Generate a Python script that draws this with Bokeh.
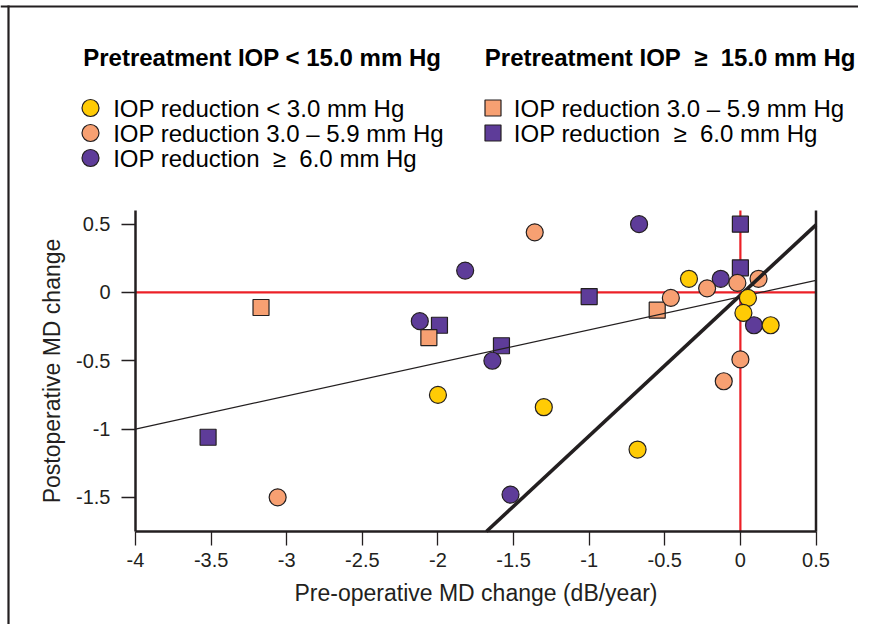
from bokeh.plotting import figure
from bokeh.models import Range1d, FixedTicker
from bokeh.embed import file_html
from bokeh.resources import INLINE
from bokeh.core.properties import value

# ---------------- data ----------------
# Pretreatment IOP < 15.0 mm Hg (circles)
yellow_circ_x = [-2.00, -1.30, -0.68, -0.34, 0.05, 0.02, 0.20]
yellow_circ_y = [-0.75, -0.84, -1.15, 0.10, -0.04, -0.15, -0.24]

orange_circ_x = [-3.06, -1.36, -0.46, -0.22, -0.02, 0.12, 0.00, -0.11]
orange_circ_y = [-1.50, 0.44, -0.04, 0.03, 0.07, 0.10, -0.49, -0.65]

purple_circ_x = [-2.12, -1.82, -1.64, -1.52, -0.67, -0.13, 0.09]
purple_circ_y = [-0.21, 0.16, -0.50, -1.48, 0.50, 0.10, -0.24]

# Pretreatment IOP >= 15.0 mm Hg (squares)
orange_sq_x = [-3.17, -2.06, -0.55]
orange_sq_y = [-0.11, -0.33, -0.13]

purple_sq_x = [-3.52, -1.99, -1.58, -1.00, 0.00, 0.00]
purple_sq_y = [-1.06, -0.24, -0.39, -0.03, 0.18, 0.50]

# fitted lines (slope, intercept)
thin_fit = (0.242, -0.032)
thick_fit = (1.03, -0.02)

x_limits = (-4.0, 0.5)
y_limits = (-1.75, 0.6)

x_ticks = [-4, -3.5, -3, -2.5, -2, -1.5, -1, -0.5, 0, 0.5]
x_tick_labels = ["-4", "-3.5", "-3", "-2.5", "-2", "-1.5", "-1", "-0.5", "0", "0.5"]
y_ticks = [-1.5, -1, -0.5, 0, 0.5]
y_tick_labels = ["-1.5", "-1", "-0.5", "0", "0.5"]

headers = ["Pretreatment IOP < 15.0 mm Hg", "Pretreatment IOP\u00a0 \u2265 \u00a015.0 mm Hg"]
legend_left = ["IOP reduction < 3.0 mm Hg",
               "IOP reduction 3.0 \u2013 5.9 mm Hg",
               "IOP reduction\u00a0 \u2265 \u00a06.0 mm Hg"]
legend_right = ["IOP reduction 3.0 \u2013 5.9 mm Hg",
                "IOP reduction\u00a0 \u2265 \u00a06.0 mm Hg"]

x_label = "Pre-operative MD change (dB/year)"
y_label = "Postoperative MD change"

# ---------------- style / geometry ----------------
FONT = "Liberation Sans"
INK = "#231F20"
YELLOW = "#FFCB05"
ORANGE = "#F7A072"
PURPLE = "#5E3C99"
RED = "#EC2027"

W, H = 858, 624
# plot area in canvas pixels
AL, AR, AT, AB = 135.0, 815.5, 210.0, 531.0
X0, X1 = x_limits
Y0, Y1 = y_limits
SX = (AR - AL) / (X1 - X0)
SY = (AB - AT) / (Y1 - Y0)


def fx(px):
    """canvas pixel x -> data x"""
    return X0 + (px - AL) / SX


def fy(py):
    """canvas pixel y (from top) -> data y"""
    return Y1 + (AT - py) / SY


p = figure(width=W, height=H,
           x_range=Range1d(fx(0), fx(W)), y_range=Range1d(fy(H), fy(0)),
           toolbar_location=None, output_backend="svg",
           min_border=0, outline_line_color=None)
p.grid.visible = False

# frame border (top and left)
p.segment(x0=[fx(0), fx(8)], y0=[fy(6), fy(5)], x1=[fx(W), fx(8)], y1=[fy(6), fy(H)],
          line_color=INK, line_width=2.2)

# headers and legend
p.text(x=[fx(82.7), fx(484.3)], y=[fy(56.5), fy(56.5)], text=headers,
       text_font=value(FONT), text_font_style="bold", text_font_size="24px",
       text_baseline="alphabetic", text_color="black")

left_colors = [YELLOW, ORANGE, PURPLE]
right_colors = [ORANGE, PURPLE]
row_y = [107.5, 132.5, 157.5]
p.scatter(x=[fx(90)] * 3, y=[fy(v) for v in row_y], marker="circle", size=17,
          fill_color=left_colors, line_color=INK, line_width=1.2)
p.text(x=[fx(112.7)] * 3, y=[fy(v) for v in row_y], text=legend_left,
       text_font=value(FONT), text_font_size="24px",
       text_baseline="alphabetic", text_color="black")
p.scatter(x=[fx(492.5)] * 2, y=[fy(v) for v in row_y[:2]], marker="square", size=16,
          fill_color=right_colors, line_color=INK, line_width=1.2)
p.text(x=[fx(513.3)] * 2, y=[fy(v) for v in row_y[:2]], text=legend_right,
       text_font=value(FONT), text_font_size="24px",
       text_baseline="alphabetic", text_color="black")

# reference lines at zero
p.segment(x0=[X0, 0], y0=[0, Y0], x1=[X1, 0], y1=[0, Y1], line_color=RED, line_width=2.2)

# right edge of the plot box
p.segment(x0=[X1], y0=[Y0], x1=[X1], y1=[Y1], line_color=INK, line_width=2.5)

# points
p.scatter(purple_sq_x, purple_sq_y, marker="square", size=16,
          fill_color=PURPLE, line_color=INK, line_width=1.2)
p.scatter(orange_sq_x, orange_sq_y, marker="square", size=16,
          fill_color=ORANGE, line_color=INK, line_width=1.2)
p.scatter(purple_circ_x, purple_circ_y, marker="circle", size=17,
          fill_color=PURPLE, line_color=INK, line_width=1.2)
p.scatter(orange_circ_x, orange_circ_y, marker="circle", size=17,
          fill_color=ORANGE, line_color=INK, line_width=1.2)

# fitted lines, limited to the plot area
thin_xs = [X0, X1]
p.line(thin_xs, [thin_fit[0] * x + thin_fit[1] for x in thin_xs], line_color=INK, line_width=1.2)
thick_xs = [max(X0, (Y0 - thick_fit[1]) / thick_fit[0]), X1]
p.line(thick_xs, [thick_fit[0] * x + thick_fit[1] for x in thick_xs], line_color=INK, line_width=3.6)

p.scatter(yellow_circ_x, yellow_circ_y, marker="circle", size=17,
          fill_color=YELLOW, line_color=INK, line_width=1.2)

# axes
p.xaxis.fixed_location = Y0
p.xaxis.bounds = (X0, X1)
p.yaxis.fixed_location = X0
p.yaxis.bounds = (Y0, Y1)
p.xaxis.ticker = FixedTicker(ticks=x_ticks)
p.xaxis.major_label_overrides = {float(t): l for t, l in zip(x_ticks, x_tick_labels)}
p.yaxis.ticker = FixedTicker(ticks=y_ticks)
p.yaxis.major_label_overrides = {float(t): l for t, l in zip(y_ticks, y_tick_labels)}
p.xaxis.axis_label = x_label
p.yaxis.axis_label = y_label

for ax in (p.xaxis[0], p.yaxis[0]):
    ax.axis_line_width = 2.5
    ax.axis_line_color = INK
    ax.major_tick_line_color = INK
    ax.major_tick_line_width = 1.3
    ax.major_tick_out = 14
    ax.major_tick_in = 0
    ax.minor_tick_line_color = None
    ax.major_label_text_font = FONT
    ax.major_label_text_font_size = "20px"
    ax.major_label_text_color = INK
    ax.axis_label_text_font = FONT
    ax.axis_label_text_font_size = "23px"
    ax.axis_label_text_font_style = "normal"
    ax.axis_label_text_color = INK

p.xaxis.major_label_standoff = 7
p.xaxis.axis_label_standoff = 10
p.yaxis.major_label_standoff = 11
p.yaxis.axis_label_standoff = 8

open("out.html", "w").write(file_html(p, INLINE))
